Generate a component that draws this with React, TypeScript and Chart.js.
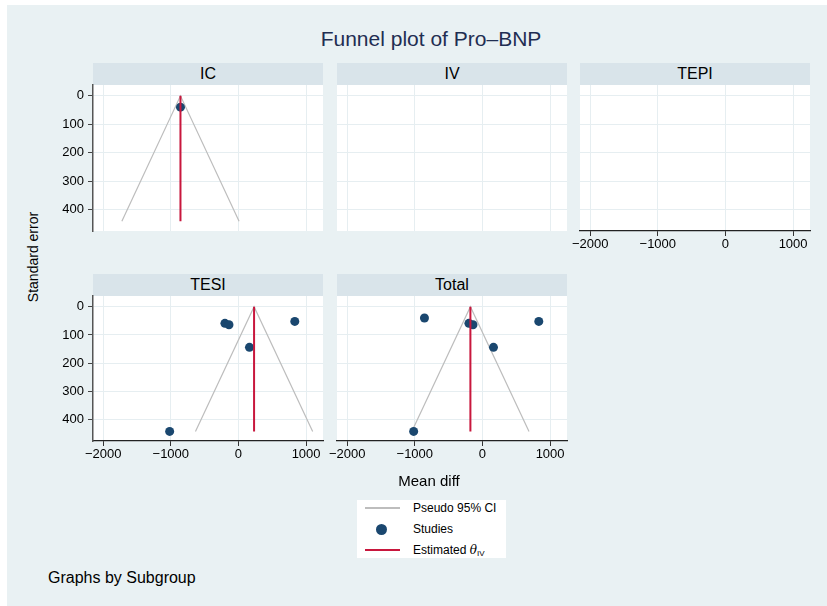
import React, { useEffect, useRef } from "react";
import { Chart, registerables } from "chart.js";

Chart.register(...registerables);

// ---------------- data ----------------
const subgroups = ["IC", "IV", "TEPI", "TESI", "Total"];
const studyGroup = ["IC", "TESI", "TESI", "TESI", "TESI", "TESI"];
const studyDiff = [-857, -200, -140, 163, 833, -1017];
const studySE = [40, 59, 64, 144, 52, 442];
const pooledGroups = ["IC", "TESI", "Total"];
const pooledTheta = [-857, 231, -178];
const xTicks = [-2000, -1000, 0, 1000];
const yTicks = [0, 100, 200, 300, 400];
const zCrit = 1.96;

// ---------------- style / layout ----------------
const FONT = '"Liberation Sans", Arial, Helvetica, sans-serif';
const BG = "#e9f1f3";
const HEADER_BG = "#d9e4ea";
const GRID = "#e6eef1";
const NAVY = "#1a476f";
const RED = "#c8173d";
const GREY = "#bdbdbd";
const Y_W = 45;
const X_H = 28;
const M_L = 50, M_R = 20, M_T = 10, M_B = 35;
const colX = [93, 337, 580];
const panelW = 230;
const headerTop = [63, 274];
const headerH = 22;
const plotH = [146, 145];
const X_MIN = -2150, X_MAX = 1250, Y_MIN = -38, Y_MAX = 476;

const layout = [
  { col: 0, row: 0, showY: true, showX: false },
  { col: 1, row: 0, showY: false, showX: false },
  { col: 2, row: 0, showY: false, showX: true },
  { col: 0, row: 1, showY: true, showX: true },
  { col: 1, row: 1, showY: false, showX: true },
];

const fmt = (v: number) => (v < 0 ? "\u2212" + Math.abs(v) : String(v));

const bgPlugin = {
  id: "plotBg",
  beforeDraw(chart: any) {
    const { ctx, chartArea: a } = chart;
    ctx.save();
    ctx.fillStyle = "#ffffff";
    ctx.fillRect(a.left, a.top, a.right - a.left, a.bottom - a.top);
    ctx.restore();
  },
};

const zeroPad = (s: any) => {
  s.paddingLeft = 0;
  s.paddingRight = 0;
  s.paddingTop = 0;
  s.paddingBottom = 0;
};

function Panel({ name, idx }: { name: string; idx: number }) {
  const ref = useRef<HTMLCanvasElement | null>(null);
  const L = layout[idx];
  const yW = L.showY ? Y_W : 0;
  const xH = L.showX ? X_H : 0;
  const left = colX[L.col] - M_L;
  const top = headerTop[L.row] + headerH - M_T;
  const w = panelW + M_L + M_R;
  const h = plotH[L.row] + M_T + M_B;

  useEffect(() => {
    if (!ref.current) return;
    const maxSE = Math.max(...studySE);
    const pts = studyDiff
      .map((d, i) => ({ x: d, y: studySE[i], g: studyGroup[i] }))
      .filter((p) => name === "Total" || p.g === name)
      .map((p) => ({ x: p.x, y: p.y }));
    const ti = pooledGroups.indexOf(name);
    const datasets: any[] = [];
    if (ti >= 0) {
      const th = pooledTheta[ti];
      datasets.push({
        data: [
          { x: th - zCrit * maxSE, y: maxSE },
          { x: th, y: 0 },
          { x: th + zCrit * maxSE, y: maxSE },
        ],
        showLine: true,
        borderColor: GREY,
        borderWidth: 1.2,
        pointRadius: 0,
        order: 3,
      });
    }
    if (pts.length) {
      datasets.push({
        data: pts,
        showLine: false,
        backgroundColor: NAVY,
        borderColor: NAVY,
        pointRadius: 4.5,
        borderWidth: 0,
        order: 2,
      });
    }
    if (ti >= 0) {
      const th = pooledTheta[ti];
      datasets.push({
        data: [
          { x: th, y: 0 },
          { x: th, y: maxSE },
        ],
        showLine: true,
        borderColor: RED,
        borderWidth: 2,
        pointRadius: 0,
        order: 1,
      });
    }
    const chart = new Chart(ref.current, {
      type: "scatter",
      data: { datasets },
      plugins: [bgPlugin],
      options: {
        animation: false,
        responsive: false,
        maintainAspectRatio: false,
        devicePixelRatio: 1,
        events: [],
        layout: {
          autoPadding: false,
          padding: { left: M_L - yW, right: M_R, top: M_T, bottom: M_B - xH },
        },
        plugins: { legend: { display: false }, tooltip: { enabled: false }, title: { display: false } },
        scales: {
          x: {
            type: "linear",
            min: X_MIN,
            max: X_MAX,
            afterBuildTicks: (s: any) => {
              s.ticks = xTicks.map((v) => ({ value: v }));
            },
            afterFit: (s: any) => {
              s.height = xH;
              zeroPad(s);
            },
            grid: { color: GRID, lineWidth: 1, drawTicks: L.showX, tickLength: 5, tickColor: "#333" },
            border: { display: L.showX, color: "#222", width: 1.2 },
            ticks: {
              display: L.showX,
              color: "#000",
              font: { family: FONT, size: 13 },
              padding: 1,
              maxRotation: 0,
              autoSkip: false,
              callback: (v: any) => fmt(Number(v)),
            },
          },
          y: {
            type: "linear",
            reverse: true,
            min: Y_MIN,
            max: Y_MAX,
            afterBuildTicks: (s: any) => {
              s.ticks = yTicks.map((v) => ({ value: v }));
            },
            afterFit: (s: any) => {
              s.width = yW;
              zeroPad(s);
            },
            grid: { color: GRID, lineWidth: 1, drawTicks: L.showY, tickLength: 5, tickColor: "#444" },
            border: { display: L.showY, color: "#555", width: 1.5 },
            ticks: {
              display: L.showY,
              color: "#000",
              font: { family: FONT, size: 13 },
              padding: 4,
              autoSkip: false,
              callback: (v: any) => fmt(Number(v)),
            },
          },
        },
      } as any,
    });
    return () => chart.destroy();
  }, [name]);

  return (
    <>
      <div
        style={{
          position: "absolute",
          left: colX[L.col],
          top: headerTop[L.row],
          width: panelW,
          height: headerH,
          background: HEADER_BG,
          color: "#000",
          font: `16px ${FONT}`,
          lineHeight: `${headerH}px`,
          textAlign: "center",
        }}
      >
        {name}
      </div>
      <canvas
        ref={ref}
        width={w}
        height={h}
        style={{ position: "absolute", left, top, width: w, height: h }}
      />
    </>
  );
}

export default function App() {
  const txt = (extra: any) => ({ position: "absolute" as const, fontFamily: FONT, color: "#000", whiteSpace: "nowrap" as const, ...extra });
  return (
    <div style={{ position: "fixed", left: 0, top: 0, width: 827, height: 606, background: "#fff", overflow: "hidden" }}>
      <div style={{ position: "absolute", left: 7, top: 5, right: 0, bottom: 0, background: BG }} />
      <div style={txt({ left: 231, width: 400, top: 27, textAlign: "center", fontSize: 21, lineHeight: "24px", color: "#1f2e52" })}>
        Funnel plot of Pro–BNP
      </div>
      {subgroups.map((s, i) => (
        <Panel key={s} name={s} idx={i} />
      ))}
      <div
        style={txt({
          left: 33 - 100,
          top: 257 - 10,
          width: 200,
          height: 20,
          lineHeight: "20px",
          textAlign: "center",
          fontSize: 14,
          transform: "rotate(-90deg)",
        })}
      >
        Standard error
      </div>
      <div style={txt({ left: 329, width: 200, top: 471, lineHeight: "20px", textAlign: "center", fontSize: 15 })}>Mean diff</div>
      <div style={{ position: "absolute", left: 357, top: 500, width: 149, height: 58, background: "#fff" }} />
      <div style={{ position: "absolute", left: 365, top: 507, width: 35, height: 1.5, background: GREY }} />
      <div style={{ position: "absolute", left: 381 - 5.5, top: 529 - 5.5, width: 11, height: 11, borderRadius: "50%", background: NAVY }} />
      <div style={{ position: "absolute", left: 365, top: 549, width: 35, height: 2, background: RED }} />
      <div style={txt({ left: 413, top: 500, lineHeight: "16px", fontSize: 12 })}>Pseudo 95% CI</div>
      <div style={txt({ left: 413, top: 521, lineHeight: "16px", fontSize: 12 })}>Studies</div>
      <div style={txt({ left: 413, top: 542, lineHeight: "16px", fontSize: 12 })}>
        Estimated <i style={{ fontFamily: '"DejaVu Serif", serif' }}>θ</i>
        <sub style={{ fontSize: 8, verticalAlign: "-2px" }}>IV</sub>
      </div>
      <div style={txt({ left: 48, top: 568, lineHeight: "20px", fontSize: 16 })}>Graphs by Subgroup</div>
    </div>
  );
}
